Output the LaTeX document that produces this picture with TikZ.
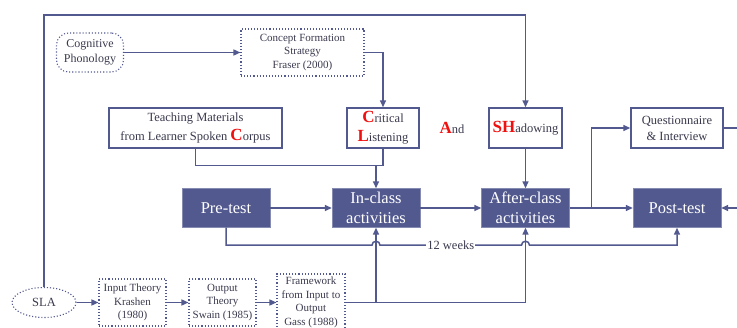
\documentclass[tikz,border=0pt]{standalone}
\usepackage{fontspec}
\setmainfont{Liberation Serif}
\usepackage{tikz}
\usetikzlibrary{shapes.geometric, arrows, arrows.meta, calc}
\definecolor{navy}{HTML}{52598F}
\definecolor{ink}{HTML}{3A3A4E}
\definecolor{capred}{HTML}{F01010}
\newcommand{\redcap}[1]{{\color{capred}\bfseries\fontsize{17}{17}\selectfont #1}}
\tikzstyle{stage} = [rectangle, fill=navy, draw=navy!70, text=white, minimum width=88pt, minimum height=39pt, inner sep=0pt, align=center, font=\fontsize{16.5}{20}\selectfont]
\tikzstyle{process} = [rectangle, draw=navy, line width=1.4pt, fill=white, text=ink, inner sep=0pt, align=center, minimum height=40pt, font=\fontsize{12.5}{19}\selectfont]
\tikzstyle{theory} = [rectangle, draw=navy, dotted, line width=1.1pt, text=ink, inner sep=0pt, align=center, font=\fontsize{11}{13.5}\selectfont]
\tikzstyle{line} = [draw=navy, line width=1.5pt]
\tikzstyle{arrow} = [line, ->, >={Triangle[length=7pt, width=6pt]}]

\begin{document}
\begin{tikzpicture}[node distance=150pt]
\useasboundingbox (0,0) rectangle (737pt,-328pt);

\node (pre)      [stage] at (226pt,-208pt)                    {Pre-test};
\node (inclass)  [stage, right of=pre]                        {In-class\\activities};
\node (after)    [stage, right of=inclass, xshift=-0.5pt]     {After-class\\activities};
\node (post)     [stage, right of=after, xshift=1.5pt]        {Post-test};

\node (teach)    [process, above of=pre, node distance=80pt, xshift=-30.5pt, minimum width=173pt] {Teaching Materials\\from Learner Spoken \redcap{C}orpus};
\node (crit)     [process, above of=inclass, node distance=80pt, xshift=7pt, minimum width=72pt]  {\redcap{C}ritical\\\redcap{L}istening};
\node (shad)     [process, above of=after, node distance=80pt, minimum width=73pt]                {\redcap{SH}adowing};
\node (and)      [right of=crit, node distance=69pt, text=ink, font=\fontsize{12.5}{14}\selectfont] {\redcap{A}nd};
\node (quest)    [process, above of=post, node distance=80pt, minimum width=92pt, font=\fontsize{12.5}{16}\selectfont] {Questionnaire\\\& Interview};

\node (concept)  [theory, above of=crit, node distance=75.5pt, xshift=-80.5pt, minimum width=123pt, minimum height=47pt] {Concept Formation\\Strategy\\Fraser (2000)};
\node (cog)      [theory, rounded corners=12pt, left of=concept, node distance=212.5pt, minimum width=67pt, minimum height=39pt, font=\fontsize{12}{15}\selectfont] {Cognitive\\Phonology};

\node (output)   [theory, below of=pre, node distance=94.5pt, xshift=-3.5pt, minimum width=67pt, minimum height=47pt] {Output\\Theory\\Swain (1985)};
\node (input)    [theory, left of=output, node distance=90pt, minimum width=67pt, minimum height=47pt]  {Input Theory\\Krashen\\(1980)};
\node (sla)      [theory, ellipse, left of=input, node distance=88.5pt, minimum width=64pt, minimum height=30pt, font=\fontsize{12.5}{15}\selectfont] {SLA};
\node (frame)    [theory, right of=output, node distance=88.5pt, minimum width=68pt, minimum height=57pt] {Framework\\from Input to\\Output\\Gass (1988)};

\coordinate (top)    at (0pt,-15pt);
\coordinate (join)   at ($(crit.south)+(0,-17pt)$);
\coordinate (wk)     at ($(pre.south)+(0,-17.5pt)$);
\coordinate (branch) at ($(after.east)+(22pt,0)$);

\draw [arrow] (cog) -- (concept);
\draw [arrow] (concept.east) -| (crit.north);
\draw [arrow] (sla.north) -- (sla.north |- top) -| (shad.north);
\draw [line] (teach.south) |- (join);
\draw [line] (crit.south) -- (join);
\draw [arrow] (inclass.north |- join) -- (inclass.north);
\draw [arrow] (shad) -- (after);
\draw [arrow] (pre) -- (inclass);
\draw [arrow] (inclass) -- (after);
\draw [arrow] (after) -- (post);
\draw [arrow] (branch) |- (quest.west);
\draw [arrow] (quest.east) -- ++(25pt,0) |- (post.east);
\draw [arrow] (pre.south) |- ([xshift=-4pt]inclass.south |- wk) arc[start angle=180, end angle=0, radius=4pt] -- node [midway, fill=white, inner sep=1pt, text=ink, font=\fontsize{12.5}{14}\selectfont] {12 weeks} ([xshift=-4pt]after.south |- wk) arc[start angle=180, end angle=0, radius=4pt] -| (post.south);
\draw [arrow] (sla) -- (input);
\draw [arrow] (input) -- (output);
\draw [arrow] (output) -- (output -| frame.west);
\draw [line] (output -| frame.east) -- (after.south |- output);
\draw [arrow] (inclass.south |- output) -- (inclass.south);
\draw [arrow] (after.south |- output) -- (after.south);

\end{tikzpicture}
\end{document}
